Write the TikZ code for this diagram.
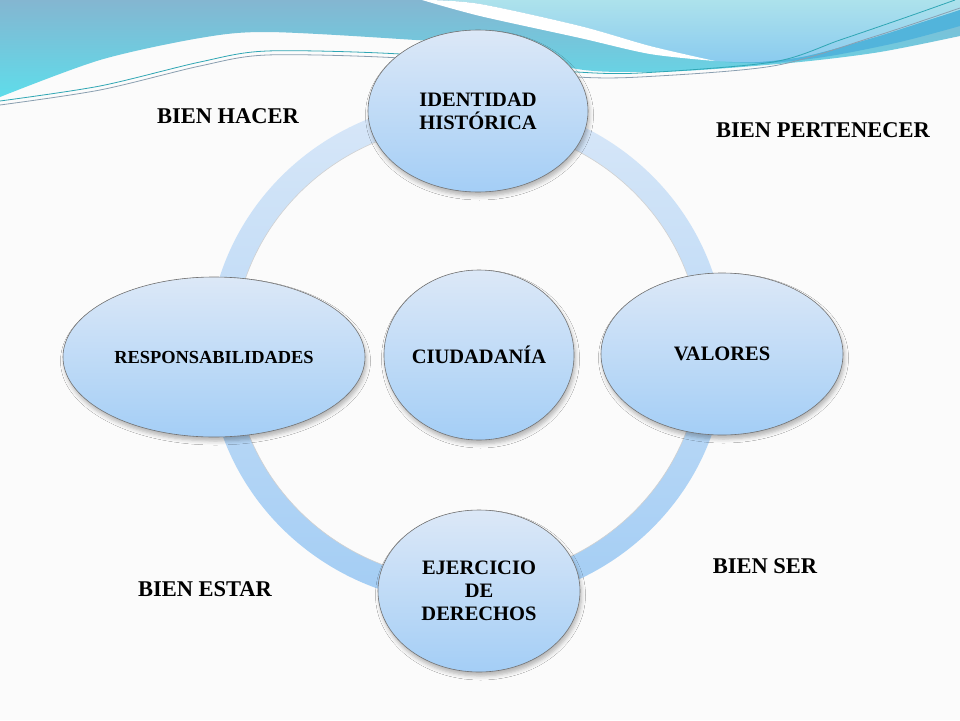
\documentclass[tikz,border=0pt]{standalone}
\usepackage{fontspec}
\setmainfont{Liberation Serif}
\usetikzlibrary{shapes.geometric,shadows.blur}
\definecolor{bgc}{HTML}{FBFBFB}
\definecolor{bandtop}{HTML}{84B6D1}
\definecolor{bandbot}{HTML}{5FDCEA}
\definecolor{rtop}{HTML}{ADE2EC}
\definecolor{rbot}{HTML}{8ACBEF}
\definecolor{dband}{HTML}{52B4DB}
\definecolor{lineA}{HTML}{2FA6B4}
\definecolor{lineB}{HTML}{8A9FB0}
\definecolor{ringtop}{HTML}{D8E7F8}
\definecolor{ringbot}{HTML}{A3CDF4}
\definecolor{ntop}{HTML}{DCE8F7}
\definecolor{nmid}{HTML}{DAE9F9}
\definecolor{nbot}{HTML}{A4CEF6}
\tikzset{
  bubble/.style={ellipse, draw=black!55, line width=0.6pt, inner sep=0pt,
    align=center, text=black,
    font=\bfseries\fontsize{20.5}{23}\selectfont,
    top color=ntop, middle color=nmid, bottom color=nbot,
    blur shadow={shadow xshift=1.5pt, shadow yshift=-4pt, shadow opacity=28, shadow blur radius=4pt}},
  outer/.style={font=\bfseries\fontsize{22.5}{27}\selectfont, text=black, inner sep=0pt}
}
\begin{document}
\begin{tikzpicture}[x=1pt,y=-1pt]
\useasboundingbox (0,0) rectangle (960,720);
\fill[bgc] (0,0) rectangle (960,720);
% main wave band
\shade[top color=bandtop, bottom color=bandbot]
  (0,0) -- (960,0) -- plot[smooth] coordinates {(960,36) (880,52) (800,62) (700,70) (640,72) (577,69) (480,46) (400,39) (267,32) (200,38) (100,60) (0,97)} -- cycle;
% right light shape
\shade[top color=rtop, bottom color=rbot]
  (430,0) -- plot[smooth] coordinates {(430,0) (480,4) (580,26) (650,46) (715,61)} -- plot[smooth] coordinates {(715,61) (760,62) (807,56) (873,38) (923,22) (960,10)} -- (960,0) -- cycle;
% deeper blue band
\fill[dband] plot[smooth] coordinates {(725,62) (760,62) (807,56) (873,38) (923,22) (960,10)} -- (960,26) -- plot[smooth] coordinates {(960,26) (900,42) (830,56) (770,63) (725,62)} -- cycle;
% white stripe
\fill[white] plot[smooth] coordinates {(428,0) (480,4) (580,26) (650,46) (715,61)} -- plot[smooth] coordinates {(715,61) (650,54) (580,38) (480,16) (422,0)} -- cycle;
% thin lines
\draw[lineA, line width=0.8pt] plot[smooth] coordinates {(0,101) (100,86) (200,62) (267,51) (400,54) (520,66) (577,72) (640,73) (773,62) (840,40) (907,17) (955,0)};
\draw[lineB, line width=0.8pt] plot[smooth] coordinates {(0,105) (100,90) (200,66) (267,55) (400,58) (520,70) (577,77) (640,77) (773,66) (873,37) (960,8)};
% ring
\shade[even odd rule, top color=ringtop, bottom color=ringbot]
  (467,352) ellipse [x radius=259pt, y radius=252pt]
  (467,352) ellipse [x radius=234pt, y radius=228pt];
\draw[black!18, line width=0.6pt] (467,352) ellipse [x radius=234pt, y radius=228pt];
% nodes
\node[bubble, minimum width=220pt, minimum height=162pt] (id) at (478,111) {IDENTIDAD\\HISTÓRICA};
\node[bubble, minimum width=242pt, minimum height=162pt] (val) at (722,354) {VALORES};
\node[bubble, minimum width=202pt, minimum height=162pt] (ej) at (479,591) {EJERCICIO\\DE\\DERECHOS};
\node[bubble, minimum width=302pt, minimum height=160pt, font=\bfseries\fontsize{18.4}{21}\selectfont] (resp) at (214,357) {RESPONSABILIDADES};
\node[bubble, minimum width=184pt, minimum height=170pt] (ciu) at (479,355) {CIUDADANÍA};
% outer labels
\node[outer] (hacer) at (228,116) {BIEN HACER};
\node[outer] (pert) at (823,130) {BIEN PERTENECER};
\node[outer] (ser) at (765,566) {BIEN SER};
\node[outer] (estar) at (205,589) {BIEN ESTAR};
\end{tikzpicture}
\end{document}
